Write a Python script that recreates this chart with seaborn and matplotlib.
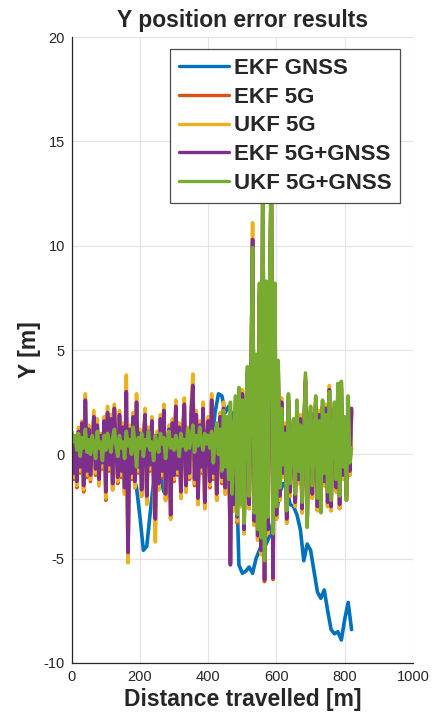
import numpy as np
import pandas as pd
import matplotlib
matplotlib.use("Agg")
import matplotlib.pyplot as plt
import seaborn as sns

# ---------------- data ----------------
series_names = ["EKF GNSS", "EKF 5G", "UKF 5G", "EKF 5G+GNSS", "UKF 5G+GNSS"]
series_colors = ["#0072BD", "#D95319", "#EDB120", "#7E2F8E", "#77AC30"]

# EKF GNSS (smooth-ish), sampled every 10 m
gnss_x = list(range(0, 821, 10))
ekf_gnss = [-0.8, 0.3, 0.6, 0.2, -0.1, 0.3, 0.1, 0.4, 0.0, 0.2,
            -0.2, 0.3, 0.1, -0.3, 0.2, 0.0, -0.4, -0.6, -1.0, -1.6,
            -3.0, -4.6, -4.4, -2.8, -1.3, -0.9, -1.1, -1.8, -2.0, -1.3,
            -0.6, -0.4, -0.2, -0.5, -0.3, 0.0, -0.4, -0.2, -0.6, -0.3,
            -0.1, 0.4, 2.0, 2.9, 2.8, 2.0, 2.3, 1.9, 0.5, -5.3,
            -5.7, -5.6, -5.4, -5.7, -5.0, -4.6, -4.2, -4.3, -3.9, -3.2,
            -2.8, -1.8, -1.4, -1.6, -2.4, -2.5, -2.9, -3.6, -5.1, -4.3,
            -4.6, -5.6, -6.6, -6.9, -6.5, -7.5, -8.4, -8.6, -8.5, -8.9,
            -7.9, -7.1, -8.4]

# 5G based filters, sampled every 5 m
fg_x = list(range(0, 821, 5))

ekf_5g = [0.7, -1.2, 0.4, -1.6, 1.0, -0.9, 1.4, -1.8, 2.5, -1.1,
          1.1, -1.3, 0.2, 1.7, -1.0, 1.3, -1.5, 0.8, -0.7, 1.5,
          -2.2, 1.9, -0.8, 1.6, -1.7, 2.1, 0.1, -1.4, 1.8, -1.1,
          1.2, -1.9, 2.9, -5.0, 1.1, -1.2, 1.7, -1.6, 2.4, -0.9,
          0.9, -2.0, 0.5, 1.8, -2.3, 1.0, -0.8, 1.5, -1.5, -3.4,
          0.8, -1.7, 1.6, -1.1, 2.0, -2.2, 0.3, 1.1, -3.1, 1.4,
          -1.3, 2.2, -1.0, 1.2, -2.1, 0.7, 2.3, -1.8, 1.0, -1.2,
          1.9, 3.2, -1.5, 1.8, -2.4, 1.3, -0.9, 2.1, -2.6, 0.6,
          1.5, -1.6, 2.5, -1.2, 0.9, -2.2, 0.4, 1.7, -1.4, 2.1,
          -1.9, 0.7, 1.1, -5.2, 1.2, -2.7, 1.9, -3.3, 2.3, -2.5,
          2.8, -3.8, 1.4, 3.7, -2.6, 2.7, 10.1, -3.4, 4.3, -4.1,
          7.5, -4.8, 13.0, -6.1, 7.8, -3.8, 7.4, 13.6, -6.0, 7.7,
          -3.1, 4.0, -2.2, 2.4, -1.1, 1.2, -3.3, 2.5, -2.0, 0.8,
          1.3, -2.5, 2.2, -1.4, 1.6, -2.8, 1.1, 3.4, -3.2, 1.4,
          1.9, -2.1, 0.7, 2.4, -2.7, 1.8, -2.6, 2.2, -1.5, 2.1,
          -2.5, 3.0, -2.7, 1.3, 2.1, -1.8, 2.9, -2.6, 3.1, -1.2,
          1.4, -2.2, 2.4, -1.0, 2.1]

ukf_5g = [0.9, -1.1, 0.6, -1.5, 1.3, -0.8, 1.6, -1.7, 2.9, -1.0,
          1.4, -1.2, 0.4, 2.1, -0.9, 1.7, -1.5, 1.0, -0.6, 1.8,
          -2.1, 2.3, -0.7, 1.9, -1.7, 2.4, 0.3, -1.3, 2.1, -1.0,
          1.5, -1.9, 3.8, -5.2, 1.4, -1.1, 2.0, -1.6, 2.9, -0.8,
          1.2, -2.0, 0.7, 2.2, -2.4, 1.3, -0.7, 1.8, -1.5, -4.2,
          1.1, -1.7, 1.9, -1.0, 2.4, -2.2, 0.5, 1.4, -3.1, 1.7,
          -1.2, 2.6, -0.9, 1.5, -2.1, 1.0, 2.7, -1.8, 1.3, -1.1,
          2.3, 3.85, -1.4, 2.1, -2.4, 1.6, -0.8, 2.5, -2.6, 0.9,
          1.8, -1.5, 2.9, -1.1, 1.2, -2.2, 0.6, 2.0, -1.3, 2.5,
          -1.9, 1.0, 1.4, -5.1, 1.5, -2.7, 2.3, -3.2, 2.6, -2.5,
          3.1, -3.8, 1.7, 4.0, -2.6, 3.0, 11.1, -3.4, 4.6, -4.1,
          7.8, -4.8, 13.0, -5.7, 8.1, -3.8, 7.7, 13.6, -5.6, 8.0,
          -3.1, 4.3, -2.2, 2.7, -1.1, 1.5, -3.3, 2.8, -2.0, 1.1,
          1.6, -2.5, 2.5, -1.4, 1.9, -2.8, 1.4, 3.7, -3.2, 1.7,
          2.2, -2.1, 1.0, 2.7, -2.7, 2.1, -2.6, 2.5, -1.5, 2.4,
          -2.5, 3.3, -2.7, 1.6, 2.4, -1.8, 3.2, -2.6, 3.4, -1.2,
          1.7, -2.2, 2.7, -1.0, 2.0]

ekf_5g_gnss = [0.8, -0.9, 0.5, -1.3, 1.1, -0.6, 1.5, -1.5, 2.6, -0.8,
               1.2, -1.0, 0.3, 1.8, -0.7, 1.4, -1.2, 0.9, -0.4, 1.6,
               -1.8, 2.0, -0.5, 1.7, -1.4, 2.2, 0.2, -1.1, 1.9, -0.8,
               1.3, -1.6, 3.0, -4.7, 1.2, -0.9, 1.8, -1.3, 2.5, -0.6,
               1.0, -1.7, 0.6, 1.9, -2.0, 1.1, -0.5, 1.6, -1.2, -3.1,
               0.9, -1.4, 1.7, -0.8, 2.1, -1.9, 0.4, 1.2, -2.9, 1.5,
               -1.0, 2.3, -0.7, 1.3, -1.8, 0.8, 2.4, -1.5, 1.1, -0.9,
               2.0, 3.3, -1.2, 1.9, -2.1, 1.4, -0.6, 2.2, -2.3, 0.7,
               1.6, -1.3, 2.6, -0.9, 1.0, -1.9, 0.5, 1.8, -1.1, 2.2,
               -1.6, 0.8, 1.2, -5.3, 1.3, -2.4, 2.0, -3.0, 2.4, -2.2,
               2.9, -3.6, 1.5, 3.8, -2.4, 2.8, 10.3, -3.2, 4.4, -3.9,
               7.6, -4.6, 13.2, -6.0, 7.9, -3.6, 7.5, 13.8, -5.9, 7.8,
               -2.9, 4.1, -2.0, 2.5, -0.9, 1.3, -3.1, 2.6, -1.8, 0.9,
               1.4, -2.3, 2.3, -1.2, 1.7, -2.6, 1.2, 3.5, -3.0, 1.5,
               2.0, -1.9, 0.8, 2.5, -2.5, 1.9, -2.4, 2.3, -1.3, 2.2,
               -2.3, 3.1, -2.5, 1.4, 2.2, -1.6, 3.0, -2.4, 3.2, -1.0,
               1.5, -2.0, 2.5, -0.8, 2.2]

ukf_5g_gnss = [1.1, 0.6, 0.9, 0.2, 1.0, -0.1, 0.8, 0.3, 1.2, 0.1,
               0.7, 0.0, 0.9, 0.4, -0.2, 1.1, 0.3, 0.6, -0.3, 0.9,
               0.2, 1.0, 0.5, 0.1, 0.8, 1.2, 0.4, -0.1, 0.9, 0.3,
               0.6, -0.2, 1.1, 0.4, 0.7, 0.0, 1.3, 0.5, -0.6, 0.8,
               0.3, 1.0, -0.1, 0.7, 0.4, 1.1, 0.2, 0.6, -0.3, 0.9,
               0.4, 0.1, 1.0, 0.5, 0.8, -0.2, 0.6, 1.1, 0.3, 0.7,
               0.2, 0.9, 0.5, -0.1, 1.0, 0.4, 0.7, 0.2, 1.2, 0.3,
               0.8, 1.4, 0.1, 0.9, 0.4, 1.3, 0.6, 0.2, 1.0, 0.5,
               0.9, 0.3, 1.1, -0.4, 0.7, 1.5, 0.0, 1.2, -0.8, 2.1,
               -0.6, 1.8, -1.2, 2.5, -1.9, 0.6, 2.8, -2.9, 3.2, -2.4,
               2.6, -3.3, 1.9, 4.2, -2.0, 3.1, 9.9, -2.8, 4.8, -3.6,
               8.2, -4.0, 14.0, -5.1, 8.3, -3.0, 8.0, 14.5, -3.8, 8.2,
               -2.5, 4.5, -1.6, 2.2, -0.5, 1.0, -2.7, 2.9, -1.4, 0.6,
               1.7, -1.9, 2.6, -0.8, 1.4, -2.3, 0.9, 3.9, -3.5, 1.2,
               2.3, -1.5, 0.5, 2.8, -2.1, 1.6, -2.8, 2.6, -0.9, 1.9,
               -1.8, 3.0, -2.2, 1.1, 2.5, -1.2, 3.4, -2.0, 3.5, -0.6,
               1.8, -2.2, 2.8, -0.4, 0.3]

x_ticks = [0, 200, 400, 600, 800, 1000]
y_ticks = [-10, -5, 0, 5, 10, 15, 20]

# ---------------- build long table ----------------
frames = [pd.DataFrame({"x": gnss_x, "y": ekf_gnss, "series": series_names[0]})]
for name, vals in zip(series_names[1:], [ekf_5g, ukf_5g, ekf_5g_gnss, ukf_5g_gnss]):
    frames.append(pd.DataFrame({"x": fg_x, "y": vals, "series": name}))
df = pd.concat(frames, ignore_index=True)

# ---------------- style ----------------
sns.set_theme(style="white")
plt.rcParams["font.family"] = ["Liberation Sans", "DejaVu Sans"]
plt.rcParams["axes.unicode_minus"] = False

fig = plt.figure(figsize=(4.33, 7.26), dpi=100)
ax = fig.add_axes([0.1656, 0.0868, 0.9538 - 0.1656, 0.949 - 0.0868])

sns.lineplot(data=df, x="x", y="y", hue="series", hue_order=series_names,
             palette=series_colors, estimator=None, sort=False,
             linewidth=2.6, legend=False, ax=ax)

ax.set_xlim(0, 1000)
ax.set_ylim(-10, 20)
ax.set_xticks(x_ticks)
ax.set_yticks(y_ticks)
ax.grid(True, color="#e4e4e4", linewidth=0.9)
ax.set_axisbelow(True)

for s in ["top", "right"]:
    ax.spines[s].set_visible(False)
for s in ["left", "bottom"]:
    ax.spines[s].set_color("#262626")
    ax.spines[s].set_linewidth(0.9)

ax.tick_params(direction="in", length=5, width=0.8, color="#262626",
               labelsize=10.5, labelcolor="#262626", pad=5)

ax.set_title("Y position error results", fontsize=16.5, fontweight="bold", pad=7)
ax.set_xlabel("Distance travelled [m]", fontsize=16.5, fontweight="bold", labelpad=3)
ax.set_ylabel("Y [m]", fontsize=16.5, fontweight="bold", labelpad=2)

leg = ax.legend(handles=ax.lines[:5], labels=series_names, loc="upper right",
                bbox_to_anchor=(0.962, 0.981), borderaxespad=0,
                prop={"weight": "bold", "size": 16},
                handlelength=2.25, handletextpad=0.2, labelspacing=0.35,
                borderpad=0.4, frameon=True, fancybox=False, framealpha=1)
leg.get_frame().set_edgecolor("#4d4d4d")
leg.get_frame().set_linewidth(0.9)
for h in leg.get_lines():
    h.set_linewidth(2.4)

fig.savefig("out.png", dpi=100)
